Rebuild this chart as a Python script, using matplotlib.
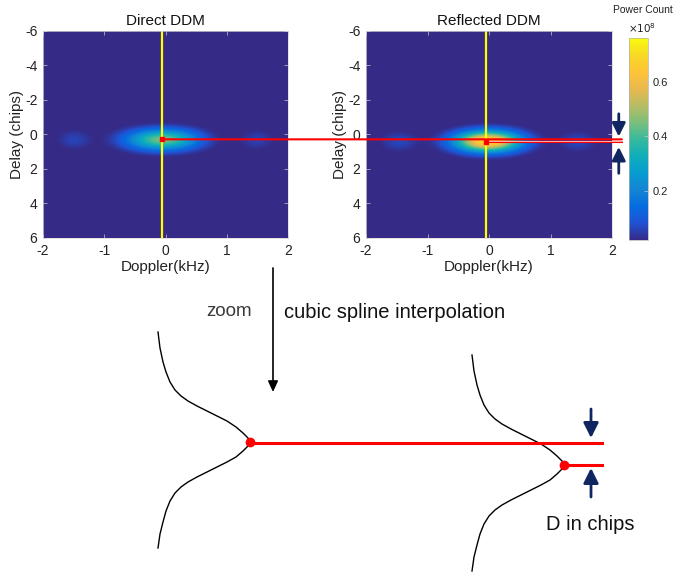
import numpy as np
import matplotlib
matplotlib.use("Agg")
import matplotlib.pyplot as plt
from matplotlib.colors import LinearSegmentedColormap
from matplotlib.patches import ConnectionPatch

plt.rcParams['font.family'] = ['Liberation Sans', 'DejaVu Sans']
plt.rcParams['axes.unicode_minus'] = False

# ---- DDM lobes (power in 1e8 counts) ----
direct_lobe_doppler = [-1.5, -0.05, 1.5]      # kHz
direct_lobe_power = [0.06, 0.45, 0.055]
direct_lobe_width = [0.2, 0.4, 0.2]
direct_delay_center = 0.3                       # chips
direct_delay_width = 0.42

reflected_lobe_doppler = [-1.47, -0.02, 1.45]
reflected_lobe_power = [0.065, 0.72, 0.065]
reflected_lobe_width = [0.22, 0.37, 0.22]
reflected_delay_center = 0.4
reflected_delay_width = 0.42

direct_peak = (-0.05, 0.28)      # doppler, delay
reflected_peak = (-0.05, 0.46)
yellow_doppler = -0.05

cbar_ticks = [0.2, 0.4, 0.6]
cbar_min, cbar_max = 0.02, 0.76

# zoomed correlation curves (figure pixels) after spline interpolation
direct_curve_x = [158, 160, 163, 166, 170, 175, 181, 188, 197, 207, 217, 227, 236, 243, 248, 250,
                  248, 243, 236, 227, 217, 207, 197, 188, 181, 175, 170, 166, 163, 160, 158]
direct_curve_y = [332, 348, 362, 372, 382, 390, 396, 401, 406, 411, 416, 421, 427, 433, 438, 442,
                  446, 451, 457, 462, 467, 472, 477, 482, 487, 493, 501, 511, 522, 534, 548]
reflected_curve_x = [472, 474, 477, 480, 484, 489, 495, 502, 511, 521, 531, 541, 550, 557, 562, 564,
                     562, 557, 550, 541, 531, 521, 511, 502, 495, 489, 484, 480, 477, 474, 472]
reflected_curve_y = [355, 371, 385, 395, 405, 413, 419, 424, 429, 434, 439, 444, 450, 456, 461, 465,
                     469, 474, 480, 485, 490, 495, 500, 505, 510, 516, 524, 534, 545, 557, 571]
direct_dot = (250, 442)
reflected_dot = (564, 465)
line_end_x = 602

# parula-like colormap
parula = LinearSegmentedColormap.from_list('parula', [
    (0.2081, 0.1663, 0.5292), (0.1253, 0.3242, 0.8303), (0.0165, 0.4266, 0.8786),
    (0.0793, 0.5200, 0.8312), (0.0265, 0.6137, 0.8135), (0.0590, 0.6838, 0.7254),
    (0.2178, 0.7250, 0.6193), (0.4871, 0.7491, 0.4840), (0.7184, 0.7411, 0.3905),
    (0.9139, 0.7258, 0.3063), (0.9990, 0.7653, 0.2164), (0.9697, 0.8481, 0.1475),
    (0.9763, 0.9831, 0.0538)])

doppler = np.linspace(-2, 2, 401)
delay = np.linspace(-6, 6, 601)


def ddm(lobe_d, lobe_p, lobe_w, dc, dw):
    prof = np.zeros_like(doppler)
    for c, p, w in zip(lobe_d, lobe_p, lobe_w):
        prof += p * np.exp(-(doppler - c) ** 2 / (2 * w ** 2))
    return np.exp(-(delay - dc) ** 2 / (2 * dw ** 2))[:, None] * prof[None, :]


direct = ddm(direct_lobe_doppler, direct_lobe_power, direct_lobe_width,
             direct_delay_center, direct_delay_width)
reflected = ddm(reflected_lobe_doppler, reflected_lobe_power, reflected_lobe_width,
                reflected_delay_center, reflected_delay_width)

fig = plt.figure(figsize=(6.76, 5.74), dpi=100)
ax1 = fig.add_axes([43 / 676, 1 - 238 / 574, 245 / 676, 207 / 574])
ax2 = fig.add_axes([366 / 676, 1 - 238 / 574, 246 / 676, 207 / 574])
cax = fig.add_axes([629 / 676, 1 - 240 / 574, 19 / 676, 202 / 574])

for ax, data, title, peak in [(ax1, direct, 'Direct DDM', direct_peak),
                              (ax2, reflected, 'Reflected DDM', reflected_peak)]:
    im = ax.imshow(data, extent=[-2, 2, 6, -6], aspect='auto', cmap=parula,
                   vmin=cbar_min, vmax=cbar_max, interpolation='bilinear')
    ax.axvline(yellow_doppler, color=(1, 1, 0), lw=1.6)
    ax.plot(*peak, 's', color='red', ms=3.5, zorder=5)
    ax.set_xlim(-2, 2)
    ax.set_ylim(6, -6)
    ax.set_xticks([-2, -1, 0, 1, 2])
    ax.set_yticks([-6, -4, -2, 0, 2, 4, 6])
    ax.tick_params(direction='in', length=3, width=0.5, color='#c8c8d8',
                   top=True, right=True, labelsize=10, labelcolor='#222222', pad=4)
    for s in ax.spines.values():
        s.set_color('#d8d8d8')
        s.set_linewidth(0.5)
    ax.set_title(title, fontsize=11, pad=4, color='#111111')
    ax.set_xlabel('Doppler(kHz)', fontsize=11, labelpad=2, color='#222222')
    ax.set_ylabel('Delay (chips)', fontsize=11, labelpad=1, color='#222222')

# red delay lines between the two DDMs
con = ConnectionPatch(xyA=direct_peak, xyB=(2.16, direct_peak[1]), coordsA=ax1.transData,
                      coordsB=ax2.transData, color='red', lw=1.5, zorder=6)
fig.add_artist(con)
ax2.plot([reflected_peak[0], 2.16], [reflected_peak[1]] * 2, color='red', lw=1.5,
         clip_on=False, zorder=6)
ax2.plot([reflected_peak[0] + 0.05, 2.16], [(direct_peak[1] + reflected_peak[1]) / 2] * 2,
         color='white', lw=0.6, clip_on=False, zorder=6, alpha=0.8)

navy = '#0f2660'
top_arrow = dict(arrowstyle='-|>,head_width=0.4,head_length=0.8', lw=2.0,
                 color=navy, shrinkA=0, shrinkB=0)
ax2.annotate('', xy=(2.11, 0.12), xytext=(2.11, -1.2), annotation_clip=False,
             arrowprops=top_arrow)
ax2.annotate('', xy=(2.11, 0.72), xytext=(2.11, 2.25), annotation_clip=False,
             arrowprops=top_arrow)

cb = fig.colorbar(im, cax=cax, ticks=cbar_ticks)
cb.ax.tick_params(direction='in', length=3, width=0.5, color='#c8c8c8',
                  labelsize=8, labelcolor='#222222', pad=3)
cb.outline.set_edgecolor('#b0b0b0')
cb.outline.set_linewidth(0.5)
fig.text(643 / 676, 1 - 10 / 574, 'Power Count', fontsize=7.5, ha='center', va='center',
         color='#222222')
fig.text(642 / 676, 1 - 28 / 574, r'$\times10^{8}$', fontsize=7.5, ha='center', va='center',
         color='#222222')

# lower sketch: zoom into the correlation peaks
ov = fig.add_axes([0, 0, 1, 1], facecolor='none')
ov.set_xlim(0, 676)
ov.set_ylim(574, 0)
ov.axis('off')

ov.annotate('', xy=(273, 392), xytext=(273, 268),
            arrowprops=dict(arrowstyle='-|>,head_width=0.3,head_length=0.65', lw=1.2,
                            color='black', shrinkA=0, shrinkB=0))
ov.text(252, 312, 'zoom', fontsize=13.5, ha='right', va='center', color='#3a3a3a')
ov.text(284, 312, 'cubic spline interpolation', fontsize=14.5, ha='left', va='center',
        color='#111111')

ov.plot(direct_curve_x, direct_curve_y, color='black', lw=1.0)
ov.plot(reflected_curve_x, reflected_curve_y, color='black', lw=1.0)
ov.plot([direct_dot[0], line_end_x], [direct_dot[1] + 1, direct_dot[1] + 1], color='red', lw=2.2)
ov.plot([reflected_dot[0], line_end_x], [reflected_dot[1], reflected_dot[1]], color='red', lw=2.2)
ov.plot(*direct_dot, 'o', color='red', ms=6)
ov.plot(*reflected_dot, 'o', color='red', ms=6)

bottom_arrow = dict(arrowstyle='-|>,head_width=0.45,head_length=0.9', lw=2.0,
                    color=navy, shrinkA=0, shrinkB=0)
ov.annotate('', xy=(591, 438), xytext=(591, 409), arrowprops=bottom_arrow)
ov.annotate('', xy=(591, 468), xytext=(591, 497), arrowprops=bottom_arrow)
ov.text(590, 525, 'D in chips', fontsize=14.5, ha='center', va='center', color='#111111')

fig.savefig('out.png', dpi=100)
